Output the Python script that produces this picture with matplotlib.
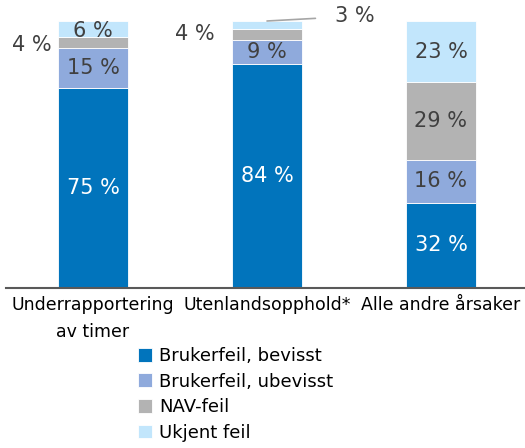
import numpy as np
import matplotlib.pyplot as plt

categories = ["Underrapportering\nav timer", "Utenlandsopphold*", "Alle andre årsaker"]
series_names = ["Brukerfeil, bevisst", "Brukerfeil, ubevisst", "NAV-feil", "Ukjent feil"]
bevisst = [75, 84, 32]
ubevisst = [15, 9, 16]
nav_feil = [4, 4, 29]
ukjent = [6, 3, 23]

colors = ["#0174BC", "#8FAADC", "#B3B3B3", "#C2E6FC"]
text_dark = "#404040"

fig = plt.figure(figsize=(5.25, 4.48), dpi=100)
ax = fig.add_axes([6 / 525, 160 / 448, 522 / 525, 267 / 448])

x = np.arange(len(categories))
width = 0.40
bottom = np.zeros(len(categories))
series = [bevisst, ubevisst, nav_feil, ukjent]
for vals, name, col in zip(series, series_names, colors):
    ax.bar(x, vals, width, bottom=bottom, color=col, label=name,
           edgecolor="white", linewidth=0.6)
    bottom += np.array(vals)

fs = 15
# labels inside the bars
for i in range(len(categories)):
    b = 0
    for k, vals in enumerate(series):
        v = vals[i]
        mid = b + v / 2
        b += v
        if v < 5 and not (k == 3 and i == 0):
            continue
        col = "white" if k == 0 else text_dark
        y = mid
        if k == 3 and i == 0:
            y = mid - 0.8
        ax.text(x[i], y, f"{v} %", ha="center", va="center", color=col, fontsize=fs)

# small segments labelled outside
ax.text(x[0] - 0.235, 91, f"{nav_feil[0]} %",
        ha="right", va="center", color=text_dark, fontsize=fs)
ax.text(x[1] - 0.30, 95, f"{nav_feil[1]} %",
        ha="right", va="center", color=text_dark, fontsize=fs)
ax.annotate(f"{ukjent[1]} %", xy=(x[1], 100), xytext=(x[1] + 0.39, 101.8),
            ha="left", va="center", color=text_dark, fontsize=fs,
            arrowprops=dict(arrowstyle="-", color="#A6A6A6", lw=1.2,
                            shrinkA=12, shrinkB=0))

ax.set_xlim(-0.5, 2.5)
ax.set_ylim(0, 100)
ax.set_xticks(x)
ax.set_xticklabels(categories, fontsize=12.5, color="black", linespacing=1.6)
ax.tick_params(axis="x", length=0, pad=6)
ax.set_yticks([])
for s in ["top", "left", "right"]:
    ax.spines[s].set_visible(False)
ax.spines["bottom"].set_color("#595959")
ax.spines["bottom"].set_linewidth(1.5)

fig.legend(loc="upper left", bbox_to_anchor=(138 / 525, 1 - 347 / 448), frameon=False,
           fontsize=13, handlelength=0.8, handleheight=0.8, handletextpad=0.35,
           labelspacing=0.42, borderaxespad=0, borderpad=0)

fig.savefig("out.png", dpi=100)
